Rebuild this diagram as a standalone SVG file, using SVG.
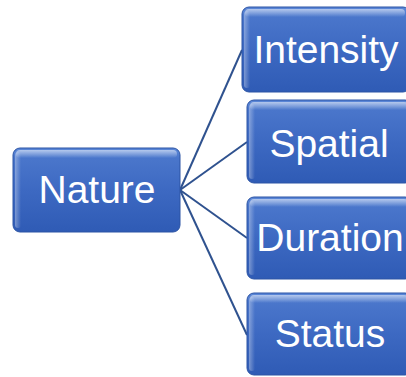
<svg xmlns="http://www.w3.org/2000/svg" width="406" height="377" viewBox="0 0 406 377">
<defs>
<linearGradient id="g" x1="0" y1="0" x2="0" y2="1">
<stop offset="0" stop-color="#5C88D8"/>
<stop offset="0.12" stop-color="#4A76CB"/>
<stop offset="0.5" stop-color="#3D69C2"/>
<stop offset="1" stop-color="#2F5BB5"/>
</linearGradient>
<linearGradient id="hl" x1="0" y1="0" x2="0" y2="1">
<stop offset="0" stop-color="#FFFFFF" stop-opacity="0.55"/>
<stop offset="1" stop-color="#FFFFFF" stop-opacity="0"/>
</linearGradient>
<linearGradient id="side" x1="0" y1="0" x2="1" y2="0">
<stop offset="0" stop-color="#FFFFFF" stop-opacity="0.35"/>
<stop offset="1" stop-color="#FFFFFF" stop-opacity="0"/>
</linearGradient>
</defs>
<style>
.box{fill:url(#g);stroke:#2D55A5;stroke-width:1}
.top{fill:url(#hl)}
.sd{fill:url(#side)}
.t{font-family:"Liberation Sans",Arial,sans-serif;font-size:39px;fill:#FFFFFF;text-anchor:middle}
.c{stroke:#2F528F;stroke-width:2;fill:none}
</style>
<g id="connectors">
<line class="c" x1="180" y1="190" x2="242" y2="50"/>
<line class="c" x1="180" y1="190" x2="247" y2="142"/>
<line class="c" x1="180" y1="190" x2="247" y2="238"/>
<line class="c" x1="180" y1="190" x2="247" y2="335"/>
</g>
<g id="nature">
<rect class="box" x="13" y="148" width="167" height="84" rx="7"/>
<rect class="top" x="16" y="150" width="161" height="8" rx="4"/>
<rect class="sd" x="15" y="152" width="6" height="76" rx="3"/>
<text class="t" x="97" y="203">Nature</text>
</g>
<g id="intensity">
<rect class="box" x="242" y="7" width="168" height="85" rx="7"/>
<rect class="top" x="245" y="9" width="160" height="8" rx="4"/>
<rect class="sd" x="244" y="11" width="6" height="77" rx="3"/>
<text class="t" x="326" y="63">Intensity</text>
</g>
<g id="spatial">
<rect class="box" x="247" y="100" width="165" height="83" rx="7"/>
<rect class="top" x="250" y="102" width="158" height="8" rx="4"/>
<rect class="sd" x="249" y="104" width="6" height="75" rx="3"/>
<text class="t" x="329" y="157">Spatial</text>
</g>
<g id="duration">
<rect class="box" x="247" y="197" width="165" height="82" rx="7"/>
<rect class="top" x="250" y="199" width="158" height="8" rx="4"/>
<rect class="sd" x="249" y="201" width="6" height="74" rx="3"/>
<text class="t" x="330" y="251">Duration</text>
</g>
<g id="status">
<rect class="box" x="247" y="293" width="165" height="82" rx="7"/>
<rect class="top" x="250" y="295" width="158" height="8" rx="4"/>
<rect class="sd" x="249" y="297" width="6" height="74" rx="3"/>
<text class="t" x="330" y="347">Status</text>
</g>
</svg>
